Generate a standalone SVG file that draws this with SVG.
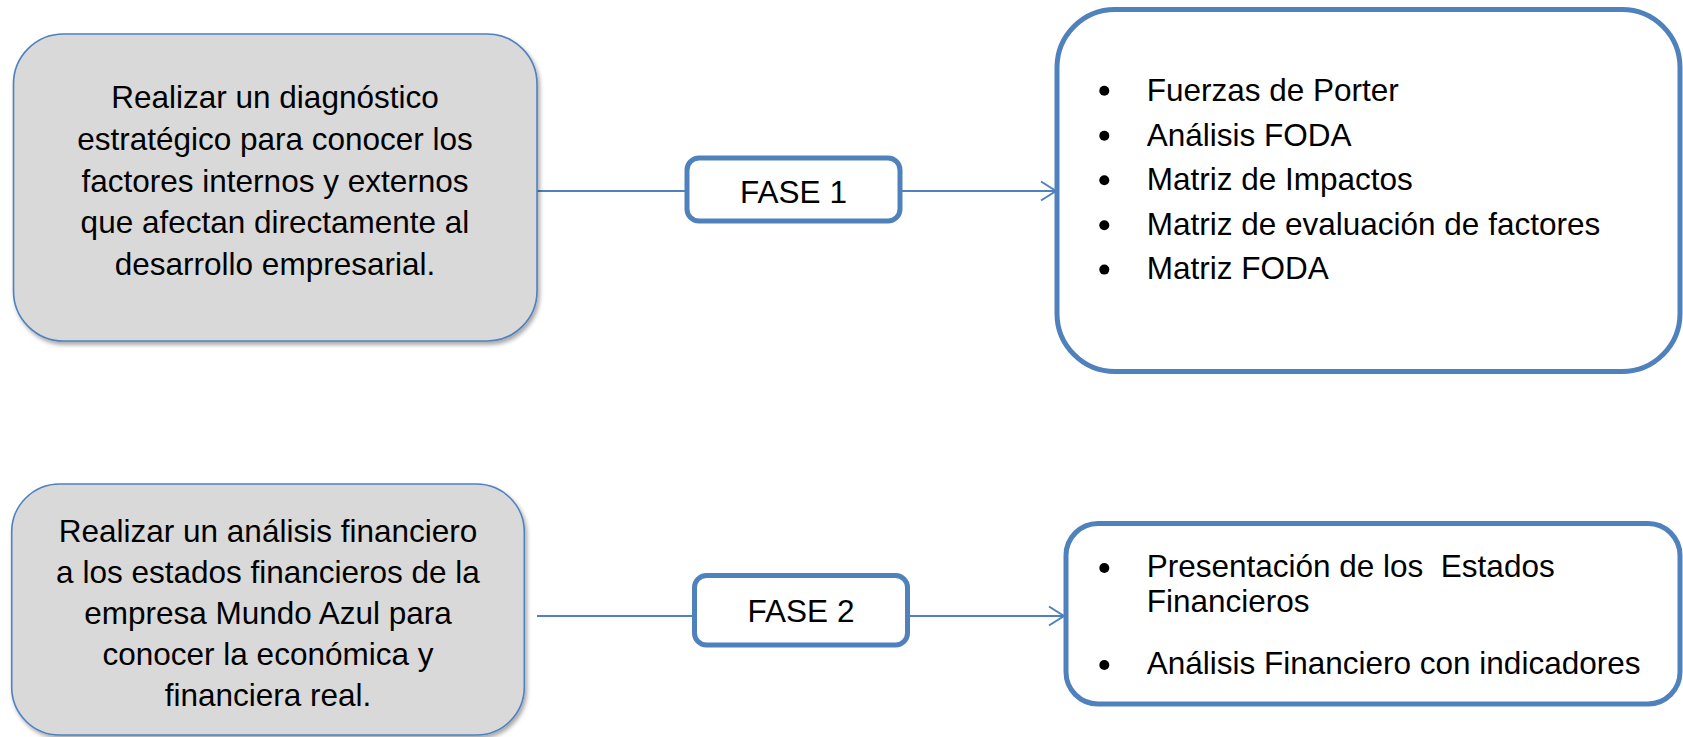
<svg xmlns="http://www.w3.org/2000/svg" width="1683" height="737" viewBox="0 0 1683 737">
  <style>
    .goal { fill: #d9d9d9; stroke: #4f81bd; stroke-width: 1.6; }
    .phase { fill: #ffffff; stroke: #4f81bd; stroke-width: 5; }
    .tools { fill: #ffffff; stroke: #4f81bd; stroke-width: 5; }
    .link { fill: none; stroke: #4f81bd; stroke-width: 2; }
    text { font-family: "Liberation Sans", Arial, sans-serif; font-size: 31.5px; fill: #000000; }
    .mid { text-anchor: middle; }
    .dot { fill: #000000; }
  </style>
  <defs>
    <filter id="shade" x="-5%" y="-5%" width="112%" height="115%">
      <feDropShadow dx="2" dy="3" stdDeviation="2" flood-color="#000000" flood-opacity="0.35"/>
    </filter>
    <marker id="chevron" viewBox="0 0 18 22" refX="16" refY="11" markerWidth="18" markerHeight="22" markerUnits="userSpaceOnUse" orient="auto">
      <path d="M1,1.5 L16,11 L1,20.5" fill="none" stroke="#4f81bd" stroke-width="2"/>
    </marker>
  </defs>

  <!-- connectors -->
  <g id="connectors">
    <line class="link" x1="537" y1="191" x2="687" y2="191"/>
    <line class="link" x1="900" y1="191" x2="1056" y2="191" marker-end="url(#chevron)"/>
    <line class="link" x1="537" y1="616" x2="694" y2="616"/>
    <line class="link" x1="907" y1="616" x2="1064" y2="616" marker-end="url(#chevron)"/>
  </g>

  <!-- phase 1 objective -->
  <g id="objetivo1">
    <rect class="goal" x="13.5" y="34" width="523.5" height="307" rx="50" ry="50" filter="url(#shade)"/>
    <text class="mid" x="275" y="108.3">Realizar un diagnóstico</text>
    <text class="mid" x="275" y="150">estratégico para conocer los</text>
    <text class="mid" x="275" y="191.7">factores internos y externos</text>
    <text class="mid" x="275" y="233.4">que afectan directamente al</text>
    <text class="mid" x="275" y="275">desarrollo empresarial.</text>
  </g>

  <g id="fase1">
    <rect class="phase" x="687" y="158" width="213" height="63" rx="12" ry="12"/>
    <text class="mid" x="793.5" y="202.5">FASE 1</text>
  </g>

  <g id="herramientas1">
    <rect class="tools" x="1057" y="9.5" width="623" height="362" rx="58" ry="58"/>
    <circle class="dot" cx="1104.3" cy="90.7" r="5"/>
    <circle class="dot" cx="1104.3" cy="135.7" r="5"/>
    <circle class="dot" cx="1104.3" cy="180.2" r="5"/>
    <circle class="dot" cx="1104.3" cy="225.2" r="5"/>
    <circle class="dot" cx="1104.3" cy="269.6" r="5"/>
    <text x="1146.7" y="100.7">Fuerzas de Porter</text>
    <text x="1146.7" y="145.7">Análisis FODA</text>
    <text x="1146.7" y="190">Matriz de Impactos</text>
    <text x="1146.7" y="235">Matriz de evaluación de factores</text>
    <text x="1146.7" y="279.3">Matriz FODA</text>
  </g>

  <!-- phase 2 objective -->
  <g id="objetivo2">
    <rect class="goal" x="11.7" y="484" width="512.6" height="251" rx="48" ry="48" filter="url(#shade)"/>
    <text class="mid" x="268" y="542">Realizar un análisis financiero</text>
    <text class="mid" x="268" y="583">a los estados financieros de la</text>
    <text class="mid" x="268" y="624">empresa Mundo Azul para</text>
    <text class="mid" x="268" y="665">conocer la económica y</text>
    <text class="mid" x="268" y="706">financiera real.</text>
  </g>

  <g id="fase2">
    <rect class="phase" x="694.5" y="575.5" width="213" height="69.5" rx="12" ry="12"/>
    <text class="mid" x="801" y="622">FASE 2</text>
  </g>

  <g id="herramientas2">
    <rect class="tools" x="1066" y="523.5" width="614" height="180.5" rx="32" ry="32"/>
    <circle class="dot" cx="1104.3" cy="568" r="5"/>
    <circle class="dot" cx="1104.3" cy="665" r="5"/>
    <text x="1146.7" y="577.3" xml:space="preserve">Presentación de los  Estados</text>
    <text x="1146.7" y="611.7">Financieros</text>
    <text x="1146.7" y="674">Análisis Financiero con indicadores</text>
  </g>
</svg>
